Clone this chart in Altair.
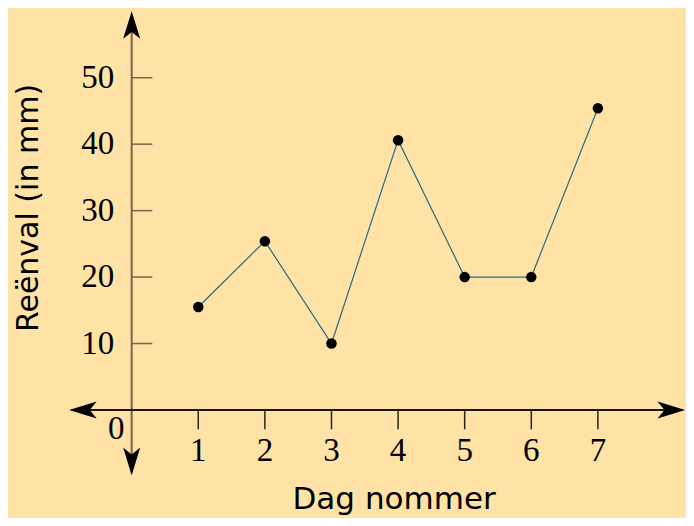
import altair as alt
import pandas as pd

# ---- data ----
days = [1, 2, 3, 4, 5, 6, 7]
rain = [15.5, 25.4, 10.0, 40.6, 20.0, 20.0, 45.4]
x_ticks = [1, 2, 3, 4, 5, 6, 7]
y_ticks = [10, 20, 30, 40, 50]
x_title = "Dag nommer"
y_title = "Reënval (in mm)"

BG = "#FEE2A6"
AXIS_BROWN = "#7a6646"
LINE_COL = "#2b6c80"
NUM_FONT = "Liberation Serif"
TITLE_FONT = "DejaVu Sans"

xs = alt.Scale(domain=[-1.857, 8.323], nice=False, zero=False)
ys = alt.Scale(domain=[-16.25, 60.49], nice=False, zero=False)

def X(f="x"):
    return alt.X(f"{f}:Q", scale=xs, axis=None)

def Y(f="y"):
    return alt.Y(f"{f}:Q", scale=ys, axis=None)

data_df = pd.DataFrame({"x": days, "y": rain})

# axis lines
xaxis_df = pd.DataFrame({"x": [-0.9], "x2": [8.2], "y": [0]})
yaxis_df = pd.DataFrame({"x": [0], "y": [-9.5], "y2": [59.2]})

x_axis = alt.Chart(xaxis_df).mark_rule(color="#1a1610", strokeWidth=2).encode(
    x=X(), x2="x2:Q", y=Y())
y_axis = alt.Chart(yaxis_df).mark_rule(color=AXIS_BROWN, strokeWidth=2).encode(
    x=X(), y=Y(), y2="y2:Q")

# ticks
xt_df = pd.DataFrame({"x": x_ticks, "y": [0] * len(x_ticks), "y2": [-2.9] * len(x_ticks)})
yt_df = pd.DataFrame({"y": y_ticks, "x": [0] * len(y_ticks), "x2": [0.31] * len(y_ticks)})
x_tick_marks = alt.Chart(xt_df).mark_rule(color="#2a2418", strokeWidth=1.5).encode(
    x=X(), y=Y(), y2="y2:Q")
y_tick_marks = alt.Chart(yt_df).mark_rule(color=AXIS_BROWN, strokeWidth=1.5).encode(
    x=X(), x2="x2:Q", y=Y())

# arrows (tip at the data point)
arrow_path = "M0,0 L0.62,2 L0,1.5 L-0.62,2 Z"
arrow_df = pd.DataFrame({
    "x": [0, 0, -0.94, 8.31],
    "y": [60.0, -9.8, 0, 0],
    "ang": [0, 180, 270, 90],
})
arrows = alt.Chart(arrow_df).mark_point(
    shape=arrow_path, filled=True, color="black", size=760, opacity=1, strokeWidth=0
).encode(x=X(), y=Y(), angle=alt.Angle("ang:Q", scale=None))

# tick labels
xl_df = pd.DataFrame({"x": x_ticks, "y": [-6.2] * len(x_ticks), "t": [str(v) for v in x_ticks]})
yl_df = pd.DataFrame({"y": y_ticks, "x": [-0.26] * len(y_ticks), "t": [str(v) for v in y_ticks]})
zero_df = pd.DataFrame({"x": [-0.23], "y": [-2.8], "t": ["0"]})

x_labels = alt.Chart(xl_df).mark_text(
    font=NUM_FONT, fontSize=33, color="black", align="center", baseline="middle"
).encode(x=X(), y=Y(), text="t:N")
y_labels = alt.Chart(yl_df).mark_text(
    font=NUM_FONT, fontSize=33, color="black", align="right", baseline="middle"
).encode(x=X(), y=Y(), text="t:N")
zero_label = alt.Chart(zero_df).mark_text(
    font=NUM_FONT, fontSize=33, color="black", align="center", baseline="middle"
).encode(x=X(), y=Y(), text="t:N")

# titles
xt_title_df = pd.DataFrame({"x": [3.94], "y": [-13.5], "t": [x_title]})
yt_title_df = pd.DataFrame({"x": [-1.54], "y": [30.4], "t": [y_title]})
x_title_mark = alt.Chart(xt_title_df).mark_text(
    font=TITLE_FONT, fontSize=31, color="black", align="center", baseline="middle"
).encode(x=X(), y=Y(), text="t:N")
y_title_mark = alt.Chart(yt_title_df).mark_text(
    font=TITLE_FONT, fontSize=30, color="black", align="center", baseline="middle", angle=270
).encode(x=X(), y=Y(), text="t:N")

# series
line = alt.Chart(data_df).mark_line(color=LINE_COL, strokeWidth=1.2).encode(x=X(), y=Y())
pts = alt.Chart(data_df).mark_point(
    filled=True, color="black", size=110, opacity=1, shape="circle"
).encode(x=X(), y=Y())

chart = alt.layer(
    y_axis, x_axis, x_tick_marks, y_tick_marks, arrows,
    x_labels, y_labels, zero_label, x_title_mark, y_title_mark,
    line, pts,
).properties(
    width=678, height=510, background=BG, padding=0,
    autosize=alt.AutoSizeParams(type="none"),
).configure_view(stroke=None)

chart.save("out.html", embed_options={"renderer": "svg", "actions": False})
